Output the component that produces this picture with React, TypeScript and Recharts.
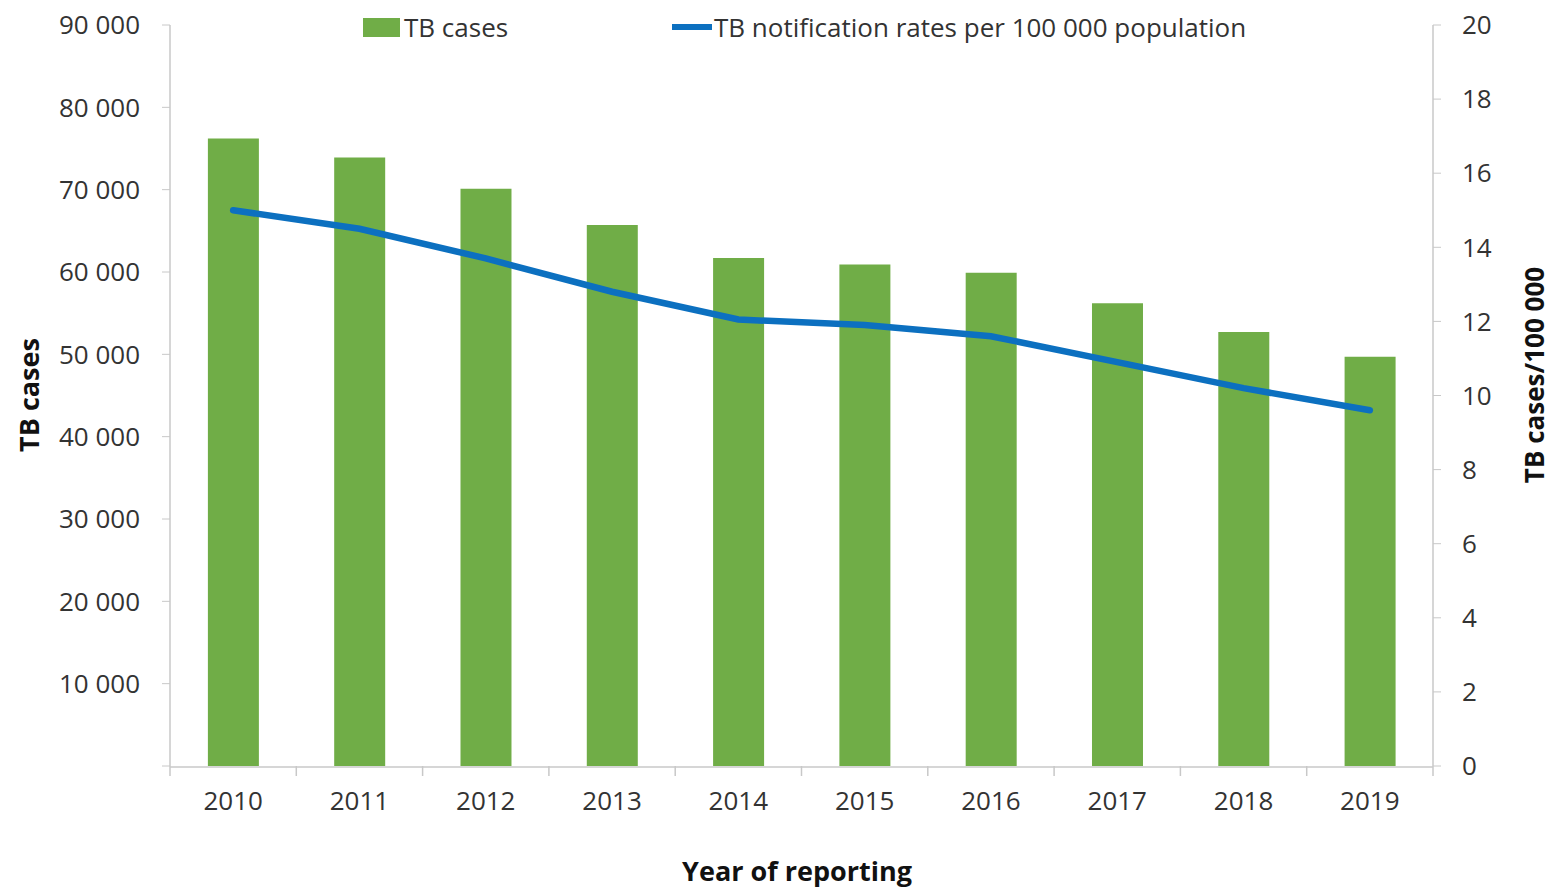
import React from 'react';
import {
  ComposedChart,
  Bar,
  Line,
  XAxis,
  YAxis,
  Legend
} from 'recharts';

const years = ['2010', '2011', '2012', '2013', '2014', '2015', '2016', '2017', '2018', '2019'];
const tbCases = [76200, 73900, 70100, 65700, 61700, 60900, 59900, 56200, 52700, 49700];
const notificationRates = [15.0, 14.5, 13.7, 12.8, 12.05, 11.9, 11.6, 10.9, 10.2, 9.6];
const leftTicks = [0, 10000, 20000, 30000, 40000, 50000, 60000, 70000, 80000, 90000];
const rightTicks = [0, 2, 4, 6, 8, 10, 12, 14, 16, 18, 20];
const boundaryTicks = [0, 1, 2, 3, 4, 5, 6, 7, 8, 9, 10];

const data = years.map((year, i) => ({
  year,
  slot: i + 0.5,
  cases: tbCases[i],
  rate: notificationRates[i]
}));

const GREEN = '#70ad47';
const BLUE = '#0c70c0';
const AXIS = '#c8c8c8';
const FONT = '"Open Sans", sans-serif';
const TICK = { fontSize: 26, fill: '#333', fontFamily: FONT };

const formatThousands = (v: number) => {
  if (v === 0) return '';
  const k = Math.round(v / 1000);
  return `${k} 000`;
};

function ChartLegend() {
  return (
    <div style={{ position: 'relative', height: 40, fontFamily: FONT, fontSize: 26, color: '#333' }}>
      <div style={{ position: 'absolute', left: 363, top: 0, display: 'flex', alignItems: 'center' }}>
        <span style={{ width: 37, height: 19, background: GREEN, display: 'inline-block', marginRight: 4 }} />
        <span>TB cases</span>
      </div>
      <div style={{ position: 'absolute', left: 672, top: 0, display: 'flex', alignItems: 'center' }}>
        <span style={{ width: 40, height: 6, background: BLUE, display: 'inline-block', marginRight: 2 }} />
        <span>TB notification rates per 100 000 population</span>
      </div>
    </div>
  );
}

export default function App() {
  return (
    <div style={{ position: 'absolute', left: 0, top: 0 }}>
      <ComposedChart
        width={1553}
        height={887}
        data={data}
        margin={{ top: 25, right: 0, bottom: 3, left: 0 }}
        barCategoryGap="30%"
      >
        {/* boundary tick marks between the years */}
        <XAxis
          xAxisId="bounds"
          dataKey="slot"
          type="number"
          domain={[0, 10]}
          allowDataOverflow
          ticks={boundaryTicks}
          interval={0}
          tickFormatter={() => ''}
          tickSize={10}
          tickLine={{ stroke: AXIS, strokeWidth: 1.5 }}
          axisLine={false}
          height={1}
        />
        <XAxis
          xAxisId="year"
          dataKey="year"
          tick={TICK}
          tickLine={false}
          tickSize={0}
          tickMargin={25}
          axisLine={{ stroke: AXIS, strokeWidth: 1.5 }}
          height={117}
          label={{
            value: 'Year of reporting',
            content: ({ value }: any) => (
              <text x={797} y={870} textAnchor="middle" dominantBaseline="central"
                fontFamily={FONT} fontSize={27} fontWeight={700} fill="#111">
                {value}
              </text>
            )
          }}
        />
        <YAxis
          yAxisId="left"
          orientation="left"
          width={170}
          domain={[0, 90000]}
          ticks={leftTicks}
          tickFormatter={formatThousands}
          tick={TICK}
          tickSize={8}
          tickMargin={22}
          tickLine={{ stroke: AXIS }}
          axisLine={{ stroke: AXIS, strokeWidth: 1.5 }}
          interval={0}
          label={{
            value: 'TB cases',
            content: ({ value }: any) => (
              <text x={28} y={395} transform="rotate(-90, 28, 395)" textAnchor="middle" dominantBaseline="central"
                fontFamily={FONT} fontSize={27} fontWeight={700} fill="#111">
                {value}
              </text>
            )
          }}
        />
        <YAxis
          yAxisId="right"
          orientation="right"
          width={120}
          domain={[0, 20]}
          ticks={rightTicks}
          tick={{ ...TICK, textAnchor: 'start' }}
          tickSize={8}
          tickMargin={21}
          tickLine={{ stroke: AXIS }}
          axisLine={{ stroke: AXIS, strokeWidth: 1.5 }}
          interval={0}
          label={{
            value: 'TB cases/100 000',
            content: ({ value }: any) => (
              <text x={1534} y={375} transform="rotate(-90, 1534, 375)" textAnchor="middle" dominantBaseline="central"
                fontFamily={FONT} fontSize={26} fontWeight={700} fill="#111">
                {value}
              </text>
            )
          }}
        />
        <Legend
          layout="horizontal"
          verticalAlign="middle"
          align="center"
          wrapperStyle={{ top: 9, left: 0, width: 1553 }}
          content={() => <ChartLegend />}
        />
        <Bar
          xAxisId="year"
          yAxisId="left"
          dataKey="cases"
          name="TB cases"
          fill={GREEN}
          isAnimationActive={false}
        />
        <Line
          xAxisId="year"
          yAxisId="right"
          dataKey="rate"
          name="TB notification rates per 100 000 population"
          type="linear"
          stroke={BLUE}
          strokeWidth={6.5}
          strokeLinecap="round"
          dot={false}
          activeDot={false}
          isAnimationActive={false}
        />
      </ComposedChart>
    </div>
  );
}
